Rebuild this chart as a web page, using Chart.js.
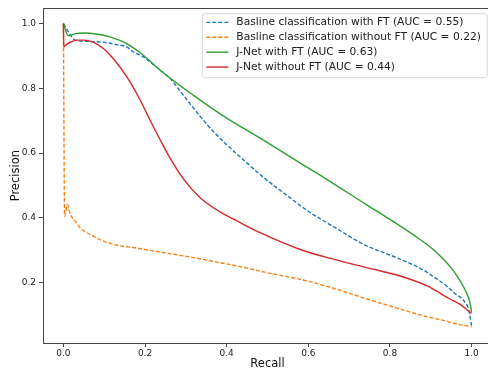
<!DOCTYPE html>
<html lang="en">
  <head>
    <meta charset="UTF-8" />
    <title>Precision-Recall Curves</title>
    <style>
      * {
        margin: 0;
        padding: 0;
      }
      html,
      body {
        width: 488px;
        height: 374px;
        overflow: hidden;
        background: #fff;
      }
      .chartBox {
        width: 500px;
        height: 374px;
      }
    </style>
  </head>
  <body>
    <div class="chartBox">
      <canvas id="myChart" width="500" height="374"></canvas>
    </div>

    <script src="https://cdn.jsdelivr.net/npm/chart.js"></script>

    <script>
      // values
      const baseFtRecall = [0, 0.012, 0.029, 0.06, 0.1, 0.13, 0.155, 0.171, 0.196, 0.237, 0.261, 0.29, 0.318, 0.359, 0.4, 0.441, 0.49, 0.55, 0.6, 0.66, 0.74, 0.8, 0.825, 0.88, 0.91, 0.94, 0.96, 0.98, 0.993, 1.0];
      const baseFtPrecision = [1.0, 0.975, 0.949, 0.945, 0.942, 0.935, 0.928, 0.913, 0.897, 0.856, 0.831, 0.785, 0.74, 0.678, 0.626, 0.579, 0.525, 0.467, 0.42, 0.374, 0.315, 0.285, 0.272, 0.24, 0.215, 0.188, 0.165, 0.145, 0.115, 0.066];

      const baseNoFtRecall = [0, 0.003, 0.01, 0.016, 0.024, 0.03, 0.041, 0.057, 0.073, 0.098, 0.131, 0.171, 0.237, 0.318, 0.433, 0.5, 0.596, 0.68, 0.759, 0.82, 0.882, 0.93, 0.963, 1.0];
      const baseNoFtPrecision = [1.0, 0.405, 0.441, 0.415, 0.395, 0.388, 0.369, 0.354, 0.343, 0.328, 0.315, 0.308, 0.294, 0.277, 0.249, 0.23, 0.205, 0.175, 0.143, 0.12, 0.097, 0.083, 0.072, 0.063];

      const jnetFtRecall = [0, 0.012, 0.03, 0.05, 0.08, 0.114, 0.155, 0.196, 0.237, 0.318, 0.4, 0.482, 0.58, 0.641, 0.743, 0.8, 0.86, 0.906, 0.923, 0.95, 0.972, 0.987, 0.996, 1.0];
      const jnetFtPrecision = [1.0, 0.962, 0.969, 0.971, 0.968, 0.959, 0.938, 0.902, 0.856, 0.779, 0.708, 0.646, 0.569, 0.522, 0.44, 0.395, 0.345, 0.302, 0.282, 0.245, 0.205, 0.17, 0.138, 0.108];

      const jnetNoFtRecall = [0, 0.001, 0.008, 0.02, 0.033, 0.049, 0.073, 0.098, 0.122, 0.155, 0.188, 0.212, 0.237, 0.261, 0.294, 0.335, 0.384, 0.433, 0.482, 0.58, 0.661, 0.743, 0.825, 0.89, 0.947, 0.975, 0.996, 1.0];
      const jnetNoFtPrecision = [1.0, 0.928, 0.936, 0.944, 0.949, 0.949, 0.943, 0.923, 0.892, 0.836, 0.764, 0.702, 0.641, 0.585, 0.52, 0.462, 0.418, 0.385, 0.354, 0.302, 0.272, 0.246, 0.22, 0.19, 0.149, 0.13, 0.108, 0.105];

      const seriesLabels = [
        "Basline classification with FT (AUC = 0.55)",
        "Basline classification without FT (AUC = 0.22)",
        "J-Net with FT (AUC = 0.63)",
        "J-Net without FT (AUC = 0.44)"
      ];

      const xTicks = [0, 0.2, 0.4, 0.6, 0.8, 1.0];
      const yTicks = [0.2, 0.4, 0.6, 0.8, 1.0];

      const toPoints = (xs, ys) => xs.map((x, i) => ({ x: x, y: ys[i] }));

      const makeSet = (label, xs, ys, color, dashed, order) => ({
        label: label,
        data: toPoints(xs, ys),
        borderColor: color,
        backgroundColor: color,
        borderWidth: 1.4,
        borderDash: dashed ? [4, 2] : [],
        showLine: true,
        pointRadius: 0,
        pointHoverRadius: 0,
        cubicInterpolationMode: "monotone",
        order: order
      });

      const data = {
        datasets: [
          makeSet(seriesLabels[0], baseFtRecall, baseFtPrecision, "#1f77b4", true, 4),
          makeSet(seriesLabels[1], baseNoFtRecall, baseNoFtPrecision, "#ff7f0e", true, 3),
          makeSet(seriesLabels[2], jnetFtRecall, jnetFtPrecision, "#2ca02c", false, 2),
          makeSet(seriesLabels[3], jnetNoFtRecall, jnetNoFtPrecision, "#d62728", false, 1)
        ]
      };

      // top spine (right one falls outside the window)
      const frame = {
        id: "frame",
        afterDraw: (chart) => {
          const { ctx, chartArea: { top, left, right } } = chart;
          ctx.save();
          ctx.strokeStyle = "#444";
          ctx.lineWidth = 1;
          ctx.beginPath();
          ctx.moveTo(left, Math.round(top) + 0.5);
          ctx.lineTo(right, Math.round(top) + 0.5);
          ctx.moveTo(Math.round(right) - 0.5, top);
          ctx.lineTo(Math.round(right) - 0.5, chart.chartArea.bottom);
          ctx.stroke();
          ctx.restore();
        }
      };

      // matplotlib-style legend box in the upper right
      const legendBox = {
        id: "legendBox",
        afterDraw: (chart) => {
          const { ctx, chartArea: { top, right } } = chart;
          const boxW = 285;
          const boxH = 64;
          const boxX = right - 4.7 - boxW;
          const boxY = top + 5.3;
          ctx.save();
          ctx.beginPath();
          ctx.roundRect(boxX, boxY, boxW, boxH, 3);
          ctx.fillStyle = "rgba(255,255,255,0.8)";
          ctx.fill();
          ctx.strokeStyle = "#d6d6d6";
          ctx.lineWidth = 1;
          ctx.stroke();

          ctx.font = "10.7px 'DejaVu Sans'";
          ctx.textBaseline = "middle";
          ctx.textAlign = "left";
          chart.data.datasets.forEach((ds, i) => {
            const y = boxY + 8.7 + i * 14.9;
            ctx.beginPath();
            ctx.setLineDash(ds.borderDash);
            ctx.strokeStyle = ds.borderColor;
            ctx.lineWidth = 1.4;
            ctx.moveTo(boxX + 4, y);
            ctx.lineTo(boxX + 26, y);
            ctx.stroke();
            ctx.setLineDash([]);
            ctx.fillStyle = "#222";
            ctx.fillText(ds.label, boxX + 34, y);
          });
          ctx.restore();
        }
      };

      const tickFont = { family: "DejaVu Sans", size: 9 };
      const titleFont = { family: "DejaVu Sans", size: 11.5 };

      const config = {
        type: "scatter",
        data,
        options: {
          responsive: false,
          animation: false,
          devicePixelRatio: 1,
          layout: {
            padding: { left: 0, top: 8, right: 8, bottom: 0 }
          },
          plugins: {
            legend: { display: false },
            tooltip: { enabled: false }
          },
          scales: {
            x: {
              type: "linear",
              min: -0.05,
              max: 1.05,
              afterBuildTicks: (scale) => {
                scale.ticks = xTicks.map((v) => ({ value: v }));
              },
              afterFit: (scale) => {
                scale.height = 31;
              },
              ticks: {
                callback: (v) => Number(v).toFixed(1),
                font: tickFont,
                color: "#222",
                padding: 1,
                maxRotation: 0,
                autoSkip: false
              },
              grid: {
                drawOnChartArea: false,
                tickLength: 4,
                color: "#444"
              },
              border: { color: "#444", width: 1 },
              title: {
                display: true,
                text: "Recall",
                font: titleFont,
                color: "#111",
                padding: { top: 0, bottom: 2.6 }
              }
            },
            y: {
              type: "linear",
              min: 0.013,
              max: 1.047,
              afterBuildTicks: (scale) => {
                scale.ticks = yTicks.map((v) => ({ value: v }));
              },
              afterFit: (scale) => {
                scale.width = 43;
              },
              ticks: {
                callback: (v) => Number(v).toFixed(1),
                font: tickFont,
                color: "#222",
                padding: 3,
                autoSkip: false
              },
              grid: {
                drawOnChartArea: false,
                tickLength: 4,
                color: "#444"
              },
              border: { color: "#444", width: 1 },
              title: {
                display: true,
                text: "Precision",
                font: titleFont,
                color: "#111",
                padding: { top: 9, bottom: 0 }
              }
            }
          }
        },
        plugins: [frame, legendBox]
      };

      const ctx = document.getElementById("myChart");
      const myChart = new Chart(ctx, config);
    </script>
  </body>
</html>
